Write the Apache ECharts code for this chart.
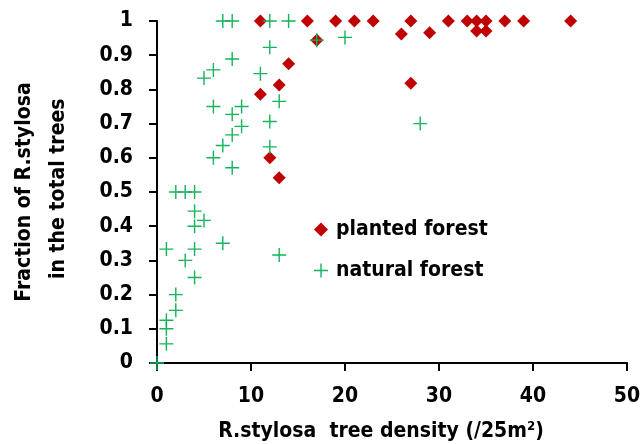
<!DOCTYPE html>
<html>
<head>
<meta charset="utf-8">
<script src="https://cdn.jsdelivr.net/npm/echarts@6/dist/echarts.min.js"></script>
<style>
  html, body { margin: 0; padding: 0; background: #fff; }
  #chart { width: 640px; height: 444px; }
</style>
</head>
<body>
<div id="chart"></div>
<script>
// planted forest: tree density, fraction
var plantedX = [11, 16, 19, 21, 23, 27, 31, 33, 34, 35, 37, 39, 44, 17, 26, 29, 34, 35, 14, 13, 11, 12, 13, 27];
var plantedY = [1, 1, 1, 1, 1, 1, 1, 1, 1, 1, 1, 1, 1, 0.944, 0.962, 0.966, 0.971, 0.971, 0.875, 0.813, 0.786, 0.6, 0.542, 0.818];

// natural forest
var naturalX = [7, 8, 12, 14, 17, 12, 8, 6, 5, 11, 6, 8, 9, 13, 9, 12, 8, 7, 12, 6, 8,
  2, 3, 4, 4, 5, 4, 1, 4, 7, 13, 3, 4, 2, 2, 1, 1, 1, 0, 20, 28];
var naturalY = [1, 1, 1, 1, 0.944, 0.923, 0.889, 0.857, 0.833, 0.846, 0.75, 0.727, 0.75, 0.765, 0.692, 0.706, 0.667, 0.636, 0.632, 0.6, 0.571,
  0.5, 0.5, 0.5, 0.444, 0.417, 0.4, 0.333, 0.333, 0.35, 0.316, 0.3, 0.25, 0.2, 0.154, 0.125, 0.1, 0.056, 0, 0.952, 0.7];

var xTicks = [0, 50, 10];     // min, max, step
var yTicks = [0, 1, 0.1];

function pairs(xs, ys) {
  var out = [];
  for (let i = 0; i < xs.length; i++) {
    out.push([xs[i], ys[i]]);
  }
  return out;
}

var font = 'DejaVu Sans Condensed';
var fs = 21;
var crossPath = 'path://M0,4.5H4.5V0H5.5V4.5H10V5.5H5.5V10H4.5V5.5H0Z';

var chart = echarts.init(document.getElementById('chart'));
chart.setOption({
  animation: false,
  backgroundColor: '#fff',
  grid: { left: 157, right: 13, top: 21, bottom: 81, outerBoundsMode: 'none', containLabel: false },
  legend: {
    orient: 'vertical',
    left: 309,
    top: 214,
    itemWidth: 14,
    itemHeight: 14,
    itemGap: 20,
    textStyle: { fontFamily: font, fontWeight: 'bold', fontSize: fs, color: '#000', padding: [0, 0, 0, 3] },
    data: ['planted forest', 'natural forest']
  },
  xAxis: {
    type: 'value',
    min: xTicks[0], max: xTicks[1], interval: xTicks[2],
    splitLine: { show: false },
    axisLine: { lineStyle: { color: '#000', width: 2 } },
    axisTick: { show: true, inside: false, length: 8, lineStyle: { color: '#000', width: 2 } },
    axisLabel: { margin: 23, fontFamily: font, fontWeight: 'bold', fontSize: fs, color: '#000' },
    name: 'R.stylosa  tree density (/25m²)',
    nameLocation: 'middle',
    nameGap: 58,
    nameTextStyle: { fontFamily: font, fontWeight: 'bold', fontSize: fs, color: '#000', padding: [0, 22, 0, 0] }
  },
  yAxis: {
    type: 'value',
    min: yTicks[0], max: yTicks[1], interval: yTicks[2],
    splitLine: { show: false },
    axisLine: { lineStyle: { color: '#000', width: 2 } },
    axisTick: { show: true, inside: false, length: 8, lineStyle: { color: '#000', width: 2 } },
    axisLabel: { margin: 24, fontFamily: font, fontWeight: 'bold', fontSize: fs, color: '#000' },
    name: 'Fraction of R.stylosa\n in the total trees',
    nameLocation: 'middle',
    nameRotate: 90,
    nameGap: 81,
    nameTextStyle: { fontFamily: font, fontWeight: 'bold', fontSize: fs, color: '#000', lineHeight: 34 }
  },
  series: [
    {
      name: 'planted forest',
      type: 'scatter',
      clip: false,
      symbol: 'diamond',
      symbolSize: 13,
      itemStyle: { color: '#C00000', opacity: 1 },
      data: pairs(plantedX, plantedY)
    },
    {
      name: 'natural forest',
      type: 'scatter',
      clip: false,
      symbol: crossPath,
      symbolSize: 14,
      itemStyle: { color: '#12b35a', opacity: 1 },
      data: pairs(naturalX, naturalY)
    }
  ]
});
</script>
</body>
</html>
